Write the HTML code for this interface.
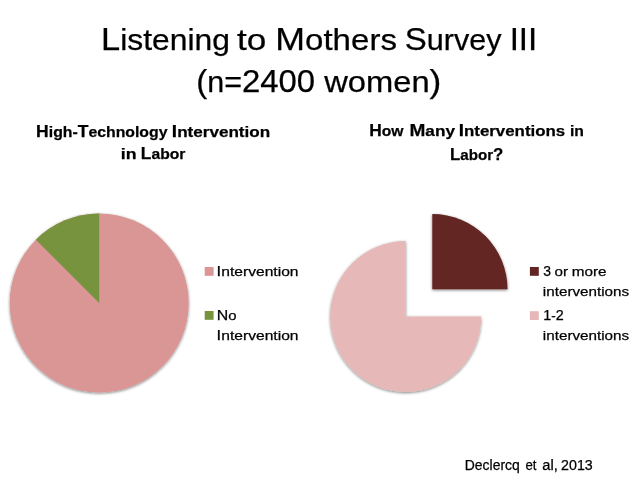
<!DOCTYPE html>
<html>
<head>
<meta charset="utf-8">
<title>Listening to Mothers Survey III</title>
<style>
  html, body { margin: 0; padding: 0; background: #ffffff; }
  body { width: 638px; height: 479px; overflow: hidden; font-family: "Liberation Sans", sans-serif; }
  svg { display: block; }
  text { font-family: "Liberation Sans", sans-serif; fill: #000000; stroke: #000000; stroke-width: 0.25px; }
  .b { font-weight: bold; }
</style>
</head>
<body>
<svg width="638" height="479" viewBox="0 0 638 479">
  <defs>
    <filter id="sh" x="-10%" y="-10%" width="120%" height="120%">
      <feGaussianBlur in="SourceAlpha" stdDeviation="1.4"/>
      <feOffset dx="0.3" dy="1.1" result="o"/>
      <feComponentTransfer><feFuncA type="linear" slope="0.5"/></feComponentTransfer>
      <feMerge><feMergeNode/><feMergeNode in="SourceGraphic"/></feMerge>
    </filter>
    <filter id="soft" x="-2%" y="-2%" width="104%" height="104%">
      <feGaussianBlur stdDeviation="0.42"/>
    </filter>
  </defs>
  <rect x="0" y="0" width="638" height="479" fill="#ffffff"/>

  <!-- Text (each word positioned individually) -->
  <g filter="url(#soft)">
  <text x="101.00" y="49.80" font-size="29.40" textLength="128.88" lengthAdjust="spacingAndGlyphs"><tspan font-size="31.75">L</tspan>istening</text>
  <text x="236.93" y="49.80" font-size="29.40" textLength="29.29" lengthAdjust="spacingAndGlyphs">to</text>
  <text x="275.26" y="49.80" font-size="29.40" textLength="121.68" lengthAdjust="spacingAndGlyphs"><tspan font-size="31.75">M</tspan>others</text>
  <text x="404.77" y="49.80" font-size="29.40" textLength="96.68" lengthAdjust="spacingAndGlyphs"><tspan font-size="31.75">S</tspan>urvey</text>
  <text x="509.66" y="49.80" font-size="29.40" textLength="27.62" lengthAdjust="spacingAndGlyphs"><tspan font-size="31.75">III</tspan></text>
  <text x="196.30" y="91.50" font-size="29.40" textLength="118.88" lengthAdjust="spacingAndGlyphs"><tspan font-size="31.75">(</tspan>n=<tspan font-size="31.75">2400</tspan></text>
  <text x="324.20" y="91.50" font-size="29.40" textLength="117.14" lengthAdjust="spacingAndGlyphs">women<tspan font-size="31.75">)</tspan></text>
  <text class="b" x="36.09" y="136.50" font-size="15.40" textLength="131.36" lengthAdjust="spacingAndGlyphs"><tspan font-size="17.09">H</tspan>igh-<tspan font-size="17.09">T</tspan>echnology</text>
  <text class="b" x="171.88" y="136.50" font-size="15.40" textLength="98.34" lengthAdjust="spacingAndGlyphs"><tspan font-size="17.09">I</tspan>ntervention</text>
  <text class="b" x="120.85" y="159.30" font-size="15.40" textLength="15.74" lengthAdjust="spacingAndGlyphs">in</text>
  <text class="b" x="140.78" y="159.30" font-size="15.40" textLength="44.63" lengthAdjust="spacingAndGlyphs"><tspan font-size="17.09">L</tspan>abor</text>
  <text class="b" x="369.17" y="136.40" font-size="15.40" textLength="34.23" lengthAdjust="spacingAndGlyphs"><tspan font-size="17.09">H</tspan>ow</text>
  <text class="b" x="409.47" y="136.40" font-size="15.40" textLength="45.49" lengthAdjust="spacingAndGlyphs"><tspan font-size="17.09">M</tspan>any</text>
  <text class="b" x="458.78" y="136.40" font-size="15.40" textLength="106.43" lengthAdjust="spacingAndGlyphs"><tspan font-size="17.09">I</tspan>nterventions</text>
  <text class="b" x="570.02" y="136.40" font-size="15.40" textLength="13.95" lengthAdjust="spacingAndGlyphs">in</text>
  <text class="b" x="450.07" y="159.70" font-size="15.40" textLength="53.31" lengthAdjust="spacingAndGlyphs"><tspan font-size="17.09">L</tspan>abor<tspan font-size="17.09">?</tspan></text>
  <text x="216.61" y="275.70" font-size="13.50" textLength="81.91" lengthAdjust="spacingAndGlyphs"><tspan font-size="14.45">I</tspan>ntervention</text>
  <text x="216.80" y="319.50" font-size="13.50" textLength="19.75" lengthAdjust="spacingAndGlyphs"><tspan font-size="14.45">N</tspan>o</text>
  <text x="216.61" y="339.60" font-size="13.50" textLength="81.91" lengthAdjust="spacingAndGlyphs"><tspan font-size="14.45">I</tspan>ntervention</text>
  <text x="543.22" y="275.70" font-size="13.50" textLength="7.75" lengthAdjust="spacingAndGlyphs"><tspan font-size="14.45">3</tspan></text>
  <text x="554.57" y="275.70" font-size="13.50" textLength="13.50" lengthAdjust="spacingAndGlyphs">or</text>
  <text x="571.71" y="275.70" font-size="13.50" textLength="34.81" lengthAdjust="spacingAndGlyphs">more</text>
  <text x="542.88" y="296.00" font-size="13.50" textLength="86.22" lengthAdjust="spacingAndGlyphs">interventions</text>
  <text x="543.22" y="319.90" font-size="13.50" textLength="20.44" lengthAdjust="spacingAndGlyphs"><tspan font-size="14.45">1</tspan>-<tspan font-size="14.45">2</tspan></text>
  <text x="542.88" y="339.80" font-size="13.50" textLength="86.22" lengthAdjust="spacingAndGlyphs">interventions</text>
  <text x="464.77" y="470.10" font-size="13.80" textLength="55.01" lengthAdjust="spacingAndGlyphs">Declercq</text>
  <text x="525.48" y="470.10" font-size="13.80" textLength="11.03" lengthAdjust="spacingAndGlyphs">et</text>
  <text x="542.24" y="470.10" font-size="13.80" textLength="15.50" lengthAdjust="spacingAndGlyphs">al,</text>
  <text x="561.08" y="470.10" font-size="13.80" textLength="31.64" lengthAdjust="spacingAndGlyphs">2013</text>
  </g>

  <!-- Pie 1: High-Technology Intervention in Labor -->
  <g filter="url(#sh)">
    <circle cx="99.2" cy="303" r="89.5" fill="#D99694"/>
    <path d="M99.2,303 L99.2,213.5 A89.5,89.5 0 0 0 35.9,239.7 Z" fill="#77933C"/>
  </g>
  <rect x="204.7" y="267.0" width="8.9" height="8.8" fill="#D99694"/>
  <rect x="204.7" y="311.0" width="8.9" height="8.8" fill="#77933C"/>

  <!-- Pie 2: How Many Interventions in Labor? -->
  <g filter="url(#sh)">
    <path d="M405.7,316.5 L481.2,316.5 A75.5,75.5 0 1 1 405.7,241 Z" fill="#E6B9B8"/>
    <path d="M432.3,289.2 L432.3,214 A75.2,75.2 0 0 1 507.5,289.2 Z" fill="#632523"/>
  </g>
  <rect x="529.9" y="267.0" width="8.9" height="8.8" fill="#632523"/>
  <rect x="529.9" y="311.2" width="8.9" height="8.8" fill="#E6B9B8"/>
</svg>
</body>
</html>
